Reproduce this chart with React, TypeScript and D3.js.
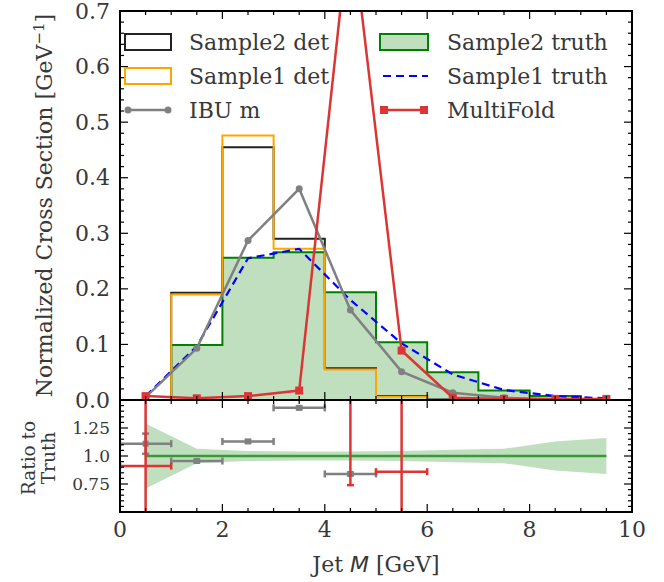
import React from "react";
import * as d3 from "d3";

const binEdges = [0, 1, 2, 3, 4, 5, 6, 7, 8, 9, 10];
const binCenters = [0.5, 1.5, 2.5, 3.5, 4.5, 5.5, 6.5, 7.5, 8.5, 9.5];
const sample2Det = [0, 0.193, 0.455, 0.29, 0.057, 0.007, 0.001, 0, 0, 0];
const sample1Det = [0, 0.19, 0.476, 0.272, 0.055, 0.006, 0, 0, 0, 0];
const sample2Truth = [0, 0.099, 0.256, 0.266, 0.194, 0.104, 0.05, 0.017, 0.007, 0];
const sample1Truth = [0.007, 0.097, 0.255, 0.272, 0.18, 0.102, 0.046, 0.018, 0.007, 0.003];
const ibuM = [0.005, 0.093, 0.287, 0.38, 0.162, 0.051, 0.013, 0.004, 0.001, 0.0];
const multiFold = [0.007, 0.003, 0.007, 0.017, 0.87, 0.089, 0.004, 0.002, 0.002, 0.002];

const truthRatioErr = [0.29, 0.065, 0.045, 0.04, 0.04, 0.045, 0.055, 0.065, 0.13, 0.16];
const ibuRatioX = [0.5, 1.5, 2.5, 3.5, 4.5];
const ibuRatio = [1.11, 0.955, 1.13, 1.43, 0.84];
const ibuRatioErr = [0.09, 0.012, 0.012, 0.012, 0.012];
const mfRatioX = [0.5, 4.5, 5.5];
const mfRatio = [0.91, 4.46, 0.86];
const mfRatioErr = [1.2, 3.72, 0.9];

const yTicksMain = [0, 0.1, 0.2, 0.3, 0.4, 0.5, 0.6, 0.7];
const yTicksRatio = [0.75, 1.0, 1.25];
const yTickLabelsRatio = ["0.75", "1.0", "1.25"];
const xTicks = [0, 2, 4, 6, 8, 10];

const W = 664, H = 582;
const L = 120, R = 632, T = 11, MB = 400, RB = 512;
const FONT = "DejaVu Serif";
const TXT = "#383838";
const RED = "#dc3535";
const GRAY = "#808080";

export default function App() {
  const x = d3.scaleLinear().domain([0, 10]).range([L, R]);
  const y = d3.scaleLinear().domain([0, 0.7]).range([MB, T]);
  const yr = d3.scaleLinear().domain([0.5, 1.5]).range([RB, MB]);

  const stepPts = (vals: number[]) => {
    const pts: [number, number][] = [[binEdges[0], 0]];
    vals.forEach((v, i) => {
      pts.push([binEdges[i], v]);
      pts.push([binEdges[i + 1], v]);
    });
    pts.push([binEdges[binEdges.length - 1], 0]);
    return pts;
  };
  const line = d3.line<[number, number]>().x((d) => x(d[0])).y((d) => y(d[1]));
  const stepPath = (vals: number[]) => line(stepPts(vals)) || "";
  const ptLine = (vals: number[]) => line(binCenters.map((c, i) => [c, vals[i]] as [number, number])) || "";

  const band = d3
    .area<number>()
    .x((_, i) => x(binCenters[i]))
    .y0((e) => yr(1 - e))
    .y1((e) => yr(1 + e));

  const xMinor = d3.range(0, 10.001, 0.5);
  const yMinorMain = d3.range(0, 0.7001, 0.02);
  const yMinorRatio = d3.range(0.5, 1.5001, 0.05);

  const ticks: JSX.Element[] = [];
  const tk = (key: string, x1: number, y1: number, x2: number, y2: number, w = 1.2) =>
    ticks.push(<line key={key} x1={x1} y1={y1} x2={x2} y2={y2} stroke="#000" strokeWidth={w} />);
  [[T, MB], [MB, RB]].forEach(([top, bot], p) => {
    xMinor.forEach((v, i) => {
      const major = Math.abs(v / 2 - Math.round(v / 2)) < 1e-6;
      const len = major ? 8 : 4;
      tk(`xb${p}-${i}`, x(v), bot, x(v), bot - len);
      tk(`xt${p}-${i}`, x(v), top, x(v), top + len);
    });
  });
  yMinorMain.forEach((v, i) => {
    const major = Math.abs(v * 10 - Math.round(v * 10)) < 1e-6;
    const len = major ? 8 : 4;
    tk(`yl${i}`, L, y(v), L + len, y(v));
    tk(`yr${i}`, R, y(v), R - len, y(v));
  });
  yMinorRatio.forEach((v, i) => {
    const major = Math.abs(v * 4 - Math.round(v * 4)) < 1e-6;
    const len = major ? 8 : 4;
    tk(`rl${i}`, L, yr(v), L + len, yr(v));
    tk(`rr${i}`, R, yr(v), R - len, yr(v));
  });

  const errBars = (xs: number[], vs: number[], es: number[], color: string, key: string, marker: boolean) =>
    xs.map((c, i) => {
      const cx = x(c), cy = yr(vs[i]);
      const lo = yr(vs[i] - es[i]), hi = yr(vs[i] + es[i]);
      const x0 = x(c - 0.5), x1 = x(c + 0.5);
      return (
        <g key={`${key}${i}`} stroke={color} strokeWidth={2.5}>
          <line x1={x0} y1={cy} x2={x1} y2={cy} />
          <line x1={cx} y1={lo} x2={cx} y2={hi} />
          <line x1={x0} y1={cy - 3.5} x2={x0} y2={cy + 3.5} />
          <line x1={x1} y1={cy - 3.5} x2={x1} y2={cy + 3.5} />
          <line x1={cx - 3.5} y1={lo} x2={cx + 3.5} y2={lo} />
          <line x1={cx - 3.5} y1={hi} x2={cx + 3.5} y2={hi} />
          {marker && <rect x={cx - 3} y={cy - 3} width={6} height={6} fill={color} stroke="none" />}
        </g>
      );
    });

  const rowY = [42, 76, 110];

  return (
    <svg width={W} height={H} style={{ position: "absolute", left: 0, top: 0 }} fontFamily={FONT}>
      <defs>
        <clipPath id="cm"><rect x={L} y={T} width={R - L} height={MB - T} /></clipPath>
        <clipPath id="cr"><rect x={L} y={MB} width={R - L} height={RB - MB} /></clipPath>
      </defs>
      <rect width={W} height={H} fill="#fff" />
      <g clipPath="url(#cm)">
        <path d={stepPath(sample2Truth)} fill="rgb(191,223,191)" stroke="green" strokeWidth={2} />
        <path d={stepPath(sample2Det)} fill="none" stroke="#222" strokeWidth={2} />
        <path d={stepPath(sample1Det)} fill="none" stroke="orange" strokeWidth={2} />
        <path d={ptLine(sample1Truth)} fill="none" stroke="blue" strokeWidth={2.2} strokeDasharray="8,5" />
        <path d={ptLine(ibuM)} fill="none" stroke={GRAY} strokeWidth={2.5} />
        {binCenters.map((c, i) => (
          <circle key={`ib${i}`} cx={x(c)} cy={y(ibuM[i])} r={3.5} fill={GRAY} />
        ))}
        <path d={ptLine(multiFold)} fill="none" stroke={RED} strokeWidth={2.5} />
        {binCenters.map((c, i) => (
          <rect key={`mf${i}`} x={x(c) - 4} y={y(multiFold[i]) - 4} width={8} height={8} fill={RED} />
        ))}
      </g>
      <g clipPath="url(#cr)">
        <path d={band(truthRatioErr) || ""} fill="green" fillOpacity={0.25} stroke="none" />
        <line x1={x(binCenters[0])} x2={x(binCenters[9])} y1={yr(1)} y2={yr(1)} stroke="#3a9a3a" strokeWidth={2.5} />
        {errBars(ibuRatioX, ibuRatio, ibuRatioErr, GRAY, "ig", true)}
        {errBars(mfRatioX, mfRatio, mfRatioErr, RED, "mg", false)}
      </g>
      {ticks}
      <rect x={L} y={T} width={R - L} height={MB - T} fill="none" stroke="#000" strokeWidth={2} />
      <rect x={L} y={MB} width={R - L} height={RB - MB} fill="none" stroke="#000" strokeWidth={2} />
      {yTicksMain.map((v) => (
        <text key={`ytl${v}`} x={L - 10} y={y(v)} textAnchor="end" dominantBaseline="central" fontSize={22} fill={TXT}>
          {v.toFixed(1)}
        </text>
      ))}
      {yTicksRatio.map((v, i) => (
        <text key={`rtl${v}`} x={L - 10} y={yr(v)} textAnchor="end" dominantBaseline="central" fontSize={17} fill={TXT}>
          {yTickLabelsRatio[i]}
        </text>
      ))}
      {xTicks.map((v) => (
        <text key={`xtl${v}`} x={x(v)} y={537} textAnchor="middle" fontSize={22} fill={TXT}>
          {v}
        </text>
      ))}
      <text x={(L + R) / 2} y={572} textAnchor="middle" fontSize={22} fill={TXT}>
        Jet <tspan fontFamily="DejaVu Sans" fontStyle="italic">M</tspan> [GeV]
      </text>
      <text transform={`translate(52,${(T + MB) / 2}) rotate(-90)`} textAnchor="middle" fontSize={22} fill={TXT}>
        Normalized Cross Section [GeV<tspan fontSize={15} dy={-8}>−1</tspan><tspan dy={8}>]</tspan>
      </text>
      <text transform={`translate(35,${(MB + RB) / 2 + 2}) rotate(-90)`} textAnchor="middle" fontSize={18.5} fill={TXT}>
        Ratio to
      </text>
      <text transform={`translate(55,${(MB + RB) / 2 + 2}) rotate(-90)`} textAnchor="middle" fontSize={18.5} fill={TXT}>
        Truth
      </text>
      <g fontSize={22} fill={TXT}>
        <rect x={125} y={rowY[0] - 8} width={46} height={16} fill="none" stroke="#222" strokeWidth={2} />
        <text x={189} y={rowY[0]} dominantBaseline="central">Sample2 det</text>
        <rect x={125} y={rowY[1] - 8} width={46} height={16} fill="none" stroke="orange" strokeWidth={2} />
        <text x={189} y={rowY[1]} dominantBaseline="central">Sample1 det</text>
        <line x1={128} x2={168} y1={rowY[2]} y2={rowY[2]} stroke={GRAY} strokeWidth={2.5} />
        <circle cx={128} cy={rowY[2]} r={3.5} fill={GRAY} />
        <circle cx={168} cy={rowY[2]} r={3.5} fill={GRAY} />
        <text x={189} y={rowY[2]} dominantBaseline="central">IBU m</text>

        <rect x={380} y={rowY[0] - 8} width={48} height={16} fill="rgb(191,223,191)" stroke="green" strokeWidth={2} />
        <text x={447} y={rowY[0]} dominantBaseline="central">Sample2 truth</text>
        <line x1={383} x2={428} y1={rowY[1]} y2={rowY[1]} stroke="blue" strokeWidth={2.2} strokeDasharray="8,5" />
        <text x={447} y={rowY[1]} dominantBaseline="central">Sample1 truth</text>
        <line x1={384} x2={424} y1={rowY[2]} y2={rowY[2]} stroke={RED} strokeWidth={2.5} />
        <rect x={380} y={rowY[2] - 4} width={8} height={8} fill={RED} />
        <rect x={420} y={rowY[2] - 4} width={8} height={8} fill={RED} />
        <text x={447} y={rowY[2]} dominantBaseline="central">MultiFold</text>
      </g>
    </svg>
  );
}
